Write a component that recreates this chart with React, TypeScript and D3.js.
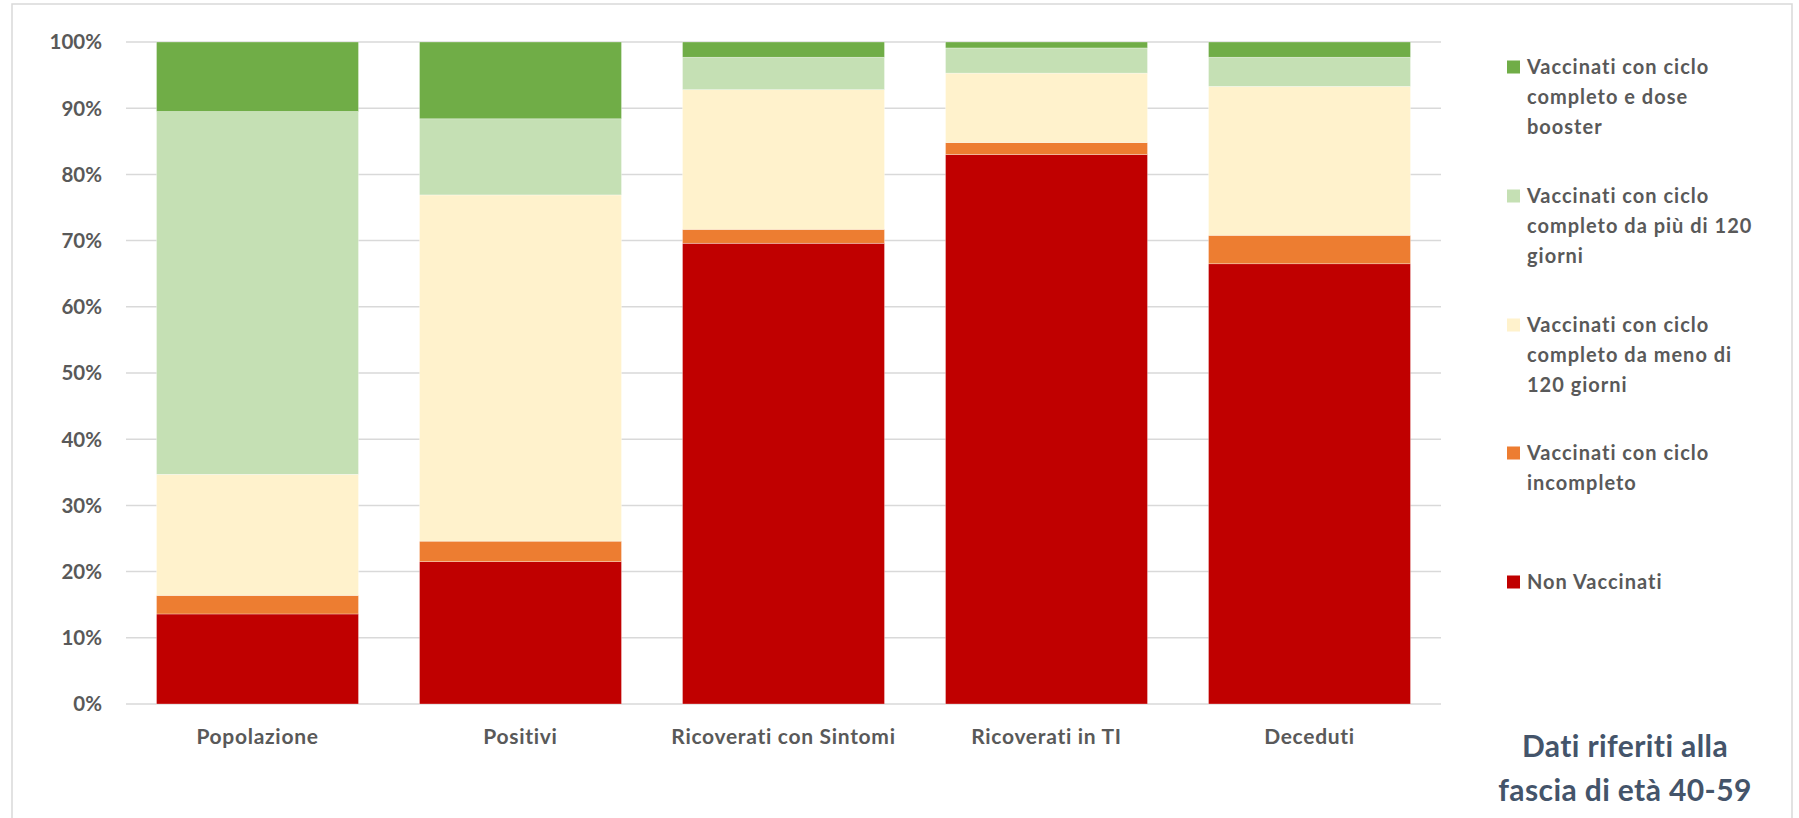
import React, { useRef, useEffect } from 'react';
import * as d3 from 'd3';

const categories = ['Popolazione', 'Positivi', 'Ricoverati con Sintomi', 'Ricoverati in TI', 'Deceduti'];

// percentages, bottom to top of each bar
const nonVaccinati = [13.6, 21.5, 69.6, 83.0, 66.5];
const incompleto = [2.8, 3.1, 2.1, 1.8, 4.3];
const menoDi120 = [18.3, 52.3, 21.1, 10.5, 22.5];
const piuDi120 = [54.8, 11.5, 4.9, 3.8, 4.4];
const booster = [10.5, 11.6, 2.3, 0.9, 2.3];

const seriesKeys = ['nonVaccinati', 'incompleto', 'menoDi120', 'piuDi120', 'booster'];
const seriesColors = ['#C00000', '#ED7D31', '#FFF2CC', '#C5E0B4', '#70AD47'];
const seriesLabels = [
    ['Non Vaccinati'],
    ['Vaccinati con ciclo', 'incompleto'],
    ['Vaccinati con ciclo', 'completo da meno di', '120 giorni'],
    ['Vaccinati con ciclo', 'completo da più di 120', 'giorni'],
    ['Vaccinati con ciclo', 'completo e dose', 'booster'],
];

const yTicks = [0, 10, 20, 30, 40, 50, 60, 70, 80, 90, 100];
const noteLines = ['Dati riferiti alla', 'fascia di età 40-59'];

const WIDTH = 1799;
const HEIGHT = 818;
const FONT = 'Lato, "Open Sans", sans-serif';

export default function App() {
    const ref = useRef<SVGSVGElement>(null);

    useEffect(() => {
        if (!ref.current) return;
        const svg = d3.select(ref.current);
        svg.selectAll('*').remove();

        const table = categories.map((c, i) => ({
            category: c,
            nonVaccinati: nonVaccinati[i],
            incompleto: incompleto[i],
            menoDi120: menoDi120[i],
            piuDi120: piuDi120[i],
            booster: booster[i],
        }));

        const x = d3.scaleBand<string>()
            .domain(categories)
            .range([126, 1441])
            .paddingInner(0.232)
            .paddingOuter(0.116);
        const y = d3.scaleLinear().domain([0, 100]).range([704, 42]);

        // outer frame
        svg.append('rect')
            .attr('x', 12).attr('y', 4)
            .attr('width', 1780).attr('height', 830)
            .attr('fill', 'none')
            .attr('stroke', '#d9d9d9')
            .attr('stroke-width', 1.5);

        // grid lines
        svg.append('g').selectAll('line').data(yTicks).enter()
            .append('line')
            .attr('x1', 126).attr('x2', 1441)
            .attr('y1', d => y(d)).attr('y2', d => y(d))
            .attr('stroke', '#d9d9d9')
            .attr('stroke-width', 1.5);

        svg.append('g').selectAll('text').data(yTicks).enter()
            .append('text')
            .attr('x', 102)
            .attr('y', d => y(d))
            .attr('dy', '0.36em')
            .attr('text-anchor', 'end')
            .attr('font-family', FONT)
            .attr('font-weight', 700)
            .attr('font-size', 20.5)
            .attr('fill', '#595959')
            .text(d => d + '%');

        const stacked = d3.stack<any>().keys(seriesKeys)(table);

        svg.append('g').selectAll('g').data(stacked).enter()
            .append('g')
            .attr('fill', (_d, i) => seriesColors[i])
            .selectAll('rect').data(d => d).enter()
            .append('rect')
            .attr('x', d => x(d.data.category) as number)
            .attr('width', x.bandwidth())
            .attr('y', d => y(d[1]))
            .attr('height', d => y(d[0]) - y(d[1]))
            .attr('stroke', '#ffffff')
            .attr('stroke-width', 0.6)
            .attr('stroke-opacity', 0.5);

        svg.append('g').selectAll('text').data(categories).enter()
            .append('text')
            .attr('x', d => (x(d) as number) + x.bandwidth() / 2)
            .attr('y', 744)
            .attr('text-anchor', 'middle')
            .attr('font-family', FONT)
            .attr('font-weight', 700)
            .attr('font-size', 21)
            .attr('letter-spacing', 0.7)
            .attr('fill', '#595959')
            .text(d => d);

        // legend, top entry is the last series
        const legendTop = [67, 196, 325, 453, 582];
        const legend = svg.append('g');
        const order = seriesKeys.map((_k, i) => seriesKeys.length - 1 - i);
        order.forEach((si, row) => {
            const g = legend.append('g').attr('transform', `translate(1507, ${legendTop[row]})`);
            g.append('rect')
                .attr('x', 0).attr('y', -6.5)
                .attr('width', 13).attr('height', 13)
                .attr('fill', seriesColors[si]);
            g.selectAll('text').data(seriesLabels[si]).enter()
                .append('text')
                .attr('x', 20)
                .attr('y', (_d, i) => i * 30)
                .attr('dy', '0.36em')
                .attr('font-family', FONT)
                .attr('font-weight', 700)
                .attr('font-size', 20)
                .attr('letter-spacing', 1)
                .attr('fill', '#595959')
                .text(d => d);
        });

        svg.append('g').selectAll('text').data(noteLines).enter()
            .append('text')
            .attr('x', 1625)
            .attr('y', (_d, i) => 757 + i * 44)
            .attr('text-anchor', 'middle')
            .attr('font-family', FONT)
            .attr('font-weight', 700)
            .attr('font-size', 30)
            .attr('letter-spacing', 0.4)
            .attr('fill', '#44546A')
            .text(d => d);
    }, []);

    return (
        <svg
            ref={ref}
            width={WIDTH}
            height={HEIGHT}
            style={{ position: 'absolute', left: 0, top: 0, background: '#ffffff' }}
        />
    );
}
